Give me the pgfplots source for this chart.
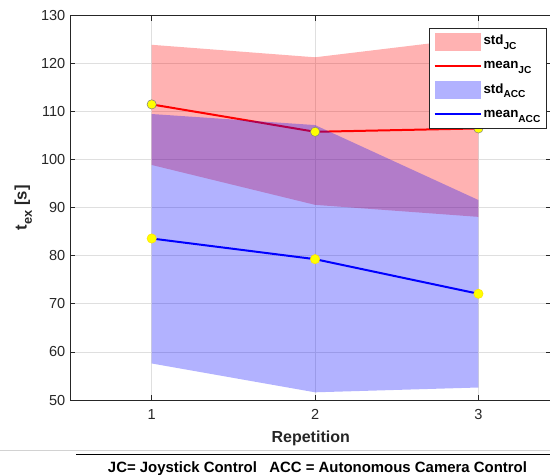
\documentclass[border=0pt]{standalone}
\usepackage{fontspec}
\setmainfont{Liberation Sans}
\usepackage{pgfplots}
\pgfplotsset{compat=1.18}
\definecolor{axgray}{RGB}{38,38,38}
\definecolor{gridgray}{RGB}{223,223,223}
\definecolor{mkyellow}{RGB}{255,255,0}
\newcommand\lsub[1]{\raisebox{-3.6pt}{\fontsize{7.6}{9}\selectfont #1}}
\newcommand\ysub[1]{\raisebox{-3.8pt}{\fontsize{9.6}{11}\selectfont #1}}
\pgfplotsset{
  patchlegend/.style={legend image code/.code={\fill[##1] (0pt,-6.75pt) rectangle (34.5pt,6.75pt);}},
  linelegend/.style={legend image code/.code={\draw[##1] (0pt,0pt) -- (34.5pt,0pt);}},
}
\begin{document}
\begin{tikzpicture}[x=1pt,y=1pt]
\begin{axis}[
  at={(52.5pt,56.25pt)}, anchor=south west,
  scale only axis, width=361.1pt, height=288.4pt,
  xmin=0.5, xmax=3.447, ymin=50, ymax=130,
  xtick={1,2,3}, ytick={50,60,...,130},
  grid=major, major grid style={gridgray, line width=0.6pt},
  axis line style={axgray, line width=0.6pt},
  tick style={axgray, line width=0.6pt},
  major tick length=4pt,
  tick align=inside,
  ticklabel style={font=\fontsize{10.9}{13}\selectfont, text=axgray},
  xticklabel style={yshift=-3.5pt},
  /pgf/number format/assume math mode=true,
  xlabel={\textbf{Repetition}},
  ylabel={\textbf{t\ysub{ex} [s]}},
  xlabel style={font=\fontsize{12}{14}\selectfont, text=axgray, yshift=-1.5pt},
  ylabel style={font=\fontsize{12.5}{14}\selectfont, text=axgray},
  legend cell align=left,
  legend style={at={(axis description cs:0.746,0.968)}, anchor=north west,
    draw=axgray, line width=0.6pt, fill=white,
    font=\fontsize{10}{12}\selectfont\bfseries,
    inner xsep=3pt, inner ysep=1.5pt, row sep=0.6pt,
    nodes={inner sep=1.5pt, text height=9.5pt, text depth=5pt, text=black}},
]
\addplot[draw=none, fill=red, fill opacity=0.3, patchlegend]
  coordinates {(1,123.9)(2,121.3)(3,125.4)(3,88.1)(2,90.6)(1,98.9)} -- cycle;
\addlegendentry{std\lsub{JC}}
\addplot[red, line width=1.5pt, linelegend]
  coordinates {(1,111.5)(2,105.8)(3,106.5)};
\addlegendentry{mean\lsub{JC}}
\addplot[draw=none, fill=blue, fill opacity=0.3, patchlegend]
  coordinates {(1,109.5)(2,107.2)(3,91.6)(3,52.6)(2,51.6)(1,57.6)} -- cycle;
\addlegendentry{std\lsub{ACC}}
\addplot[blue, line width=1.5pt, linelegend]
  coordinates {(1,83.6)(2,79.3)(3,72.1)};
\addlegendentry{mean\lsub{ACC}}
\addplot[forget plot, only marks, mark=*, mark size=3.5pt,
  mark options={fill=mkyellow, draw=gray, line width=0.4pt}]
  coordinates {(1,111.5)(2,105.8)(3,106.5)};
\addplot[forget plot, only marks, mark=*, mark size=3.5pt,
  mark options={fill=mkyellow, draw=yellow!85!orange, line width=0.4pt}]
  coordinates {(1,83.6)(2,79.3)(3,72.1)};
\end{axis}
\draw[gray!35, line width=0.75pt] (0,18.2) -- (412.5,18.2);
\draw[black, line width=1pt] (57,15.5) -- (412.5,15.5);
\node[anchor=base, inner sep=0pt, font=\fontsize{11.2}{13}\selectfont\bfseries]
  at (238.1,1.7) {JC= Joystick Control\ \ \ ACC = Autonomous Camera Control};
\pgfresetboundingbox
\useasboundingbox (0,0) rectangle (412.5,356.25);
\end{tikzpicture}
\end{document}
